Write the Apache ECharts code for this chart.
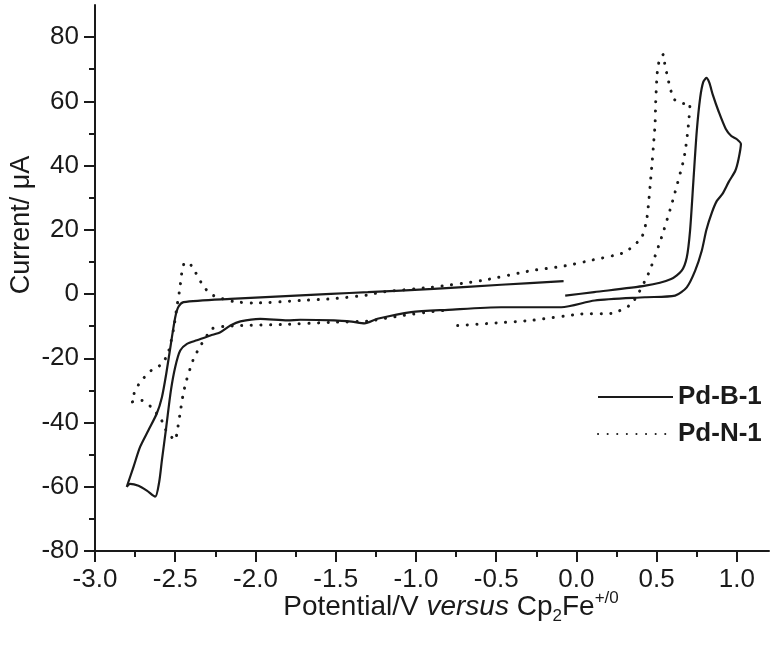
<!DOCTYPE html>
<html>
<head>
<meta charset="utf-8">
<script src="https://cdn.jsdelivr.net/npm/echarts@6/dist/echarts.min.js"></script>
<style>
html,body{margin:0;padding:0;background:#fff;}
#chart{width:772px;height:654px;}
</style>
</head>
<body>
<div id="chart"></div>
<script>
// Pd-B-1 (solid) — potential (V) and current (µA), in scan order
const potentialB = [-0.07,0.11,0.43,0.59,0.656,0.6875,0.708,0.729,0.75,0.771,0.79,0.81,0.828,0.85,0.885,0.93,0.965,1.0,1.025,1.01,0.99,0.95,0.91,0.875,0.845,0.81,0.781,0.74,0.6875,0.615,0.427,0.114,-0.094,-0.47,-0.80,-1.03,-1.24,-1.32,-1.40,-1.51,-1.72,-1.80,-1.97,-2.094,-2.156,-2.219,-2.281,-2.365,-2.427,-2.469,-2.50,-2.527,-2.556,-2.583,-2.60,-2.625,-2.677,-2.729,-2.781,-2.802,-2.76,-2.719,-2.667,-2.615,-2.583,-2.556,-2.527,-2.50,-2.479,-2.448,-2.156,-1.53,-1.30,-0.89,-0.47,-0.08];
const currentB   = [-0.5,0.6,2.6,4.7,7.3,11.4,19.7,35.3,50.8,61.1,66.0,67.3,65.8,62.0,57.0,51.5,49.2,48.2,46.7,42.0,38.4,35.0,31.2,29.0,25.5,20.0,13.5,7.3,2.1,-0.5,-1.0,-2.0,-4.1,-4.1,-4.9,-5.6,-7.7,-9.1,-8.6,-8.2,-8.0,-8.2,-7.7,-8.5,-9.8,-11.9,-12.9,-14.4,-15.5,-17.6,-22.7,-30.0,-41.4,-51.7,-58.5,-63.1,-61.2,-59.7,-59.1,-60.0,-53.8,-47.6,-42.4,-37.2,-32.1,-24.8,-15.5,-7.2,-3.9,-2.5,-1.5,0.06,0.6,1.6,2.9,4.0];

// Pd-N-1 (dotted)
const potentialN = [-0.74,-0.5,-0.28,0.03,0.22,0.344,0.448,0.53,0.594,0.667,0.681,0.694,0.702,0.708,0.667,0.61,0.583,0.567,0.552,0.542,0.521,0.506,0.50,0.494,0.49,0.479,0.469,0.44,0.406,0.30,0.10,-0.09,-0.28,-0.59,-0.906,-1.22,-1.30,-1.53,-1.72,-2.01,-2.14,-2.26,-2.32,-2.40,-2.44,-2.46,-2.47,-2.49,-2.51,-2.54,-2.58,-2.65,-2.71,-2.75,-2.77,-2.71,-2.65,-2.59,-2.56,-2.50,-2.49,-2.47,-2.45,-2.43,-2.39,-2.35,-2.27,-2.20,-2.09,-1.84,-1.53,-1.30,-1.09,-0.89,-0.80];
const currentN   = [-9.8,-9.0,-8.2,-6.2,-6.0,-3.0,6.3,17.6,28.0,41.5,45.6,50.8,54.9,59.3,59.3,60.6,64.3,67.9,71.0,74.6,73.6,70.0,66.3,59.6,52.9,45.6,39.4,23.9,17.6,13.0,10.6,8.6,7.3,4.2,2.1,0.6,-0.3,-1.5,-2.0,-2.8,-2.3,-0.5,2.1,8.9,9.9,6.3,2.1,-4.1,-10.8,-17.6,-21.7,-23.8,-26.9,-30.0,-33.6,-33.1,-35.2,-38.8,-42.2,-45.5,-43.4,-37.2,-31.0,-26.9,-20.7,-16.7,-10.8,-10.1,-9.8,-9.5,-8.8,-8.4,-6.7,-5.4,-5.0];

// axis ticks
const xMajorTicks = [-3.0,-2.5,-2.0,-1.5,-1.0,-0.5,0.0,0.5,1.0];
const xMinorTicks = [-2.75,-2.25,-1.75,-1.25,-0.75,-0.25,0.25,0.75];
const yMajorTicks = [-80,-60,-40,-20,0,20,40,60,80];
const yMinorTicks = [-70,-50,-30,-10,10,30,50,70];
const seriesNames = ['Pd-B-1','Pd-N-1'];

const zip = (xs, ys) => xs.map((x, i) => [x, ys[i]]);
const FONT = '"Liberation Sans", Arial, sans-serif';
const INK = '#1a1a1a';

const chart = echarts.init(document.getElementById('chart'), null, {renderer:'canvas'});
const grid = {left:95, right:3, top:5, bottom:103, containLabel:false};
const xBase = {type:'value', min:-3, max:1.2, splitLine:{show:false}};
const yBase = {type:'value', min:-80, max:90, splitLine:{show:false}};

chart.setOption({
  animation:false,
  backgroundColor:'#fff',
  grid: grid,
  xAxis: [
    Object.assign({}, xBase, {
      position:'bottom',
      axisLine:{show:true, onZero:false, lineStyle:{color:INK, width:2}},
      axisTick:{show:true, inside:false, length:11, lineStyle:{color:INK, width:2}, customValues:xMajorTicks},
      axisLabel:{show:true, margin:16, fontSize:26, color:INK, fontFamily:FONT,
        customValues:xMajorTicks, formatter: v => v.toFixed(1)}
    }),
    Object.assign({}, xBase, {
      position:'bottom',
      axisLine:{show:false, onZero:false},
      axisTick:{show:true, inside:false, length:6, lineStyle:{color:INK, width:2}, customValues:xMinorTicks},
      axisLabel:{show:false}
    })
  ],
  yAxis: [
    Object.assign({}, yBase, {
      position:'left',
      axisLine:{show:true, onZero:false, lineStyle:{color:INK, width:2}},
      axisTick:{show:true, inside:false, length:11, lineStyle:{color:INK, width:2}, customValues:yMajorTicks},
      axisLabel:{show:true, margin:16, fontSize:26, color:INK, fontFamily:FONT, customValues:yMajorTicks}
    }),
    Object.assign({}, yBase, {
      position:'left',
      axisLine:{show:false, onZero:false},
      axisTick:{show:true, inside:false, length:6, lineStyle:{color:INK, width:2}, customValues:yMinorTicks},
      axisLabel:{show:false}
    })
  ],
  legend: {
    show:true, orient:'vertical', left:597, top:384, itemGap:11, padding:0,
    itemWidth:75, itemHeight:26,
    itemStyle:{color:'rgba(0,0,0,0)', borderWidth:0, opacity:0},
    textStyle:{fontFamily:FONT, fontSize:26, fontWeight:'bold', color:INK},
    data: seriesNames
  },
  series: [
    {name:seriesNames[0], type:'line', xAxisIndex:0, yAxisIndex:0, data:zip(potentialB, currentB),
     showSymbol:false, symbol:'none', smooth:0.25, lineStyle:{color:INK, width:2.2}, itemStyle:{color:INK}},
    {name:seriesNames[1], type:'line', xAxisIndex:0, yAxisIndex:0, data:zip(potentialN, currentN),
     showSymbol:false, symbol:'none', smooth:0.2, lineStyle:{color:INK, width:3, type:[0.1, 9.5], cap:'round'}, itemStyle:{color:INK}}
  ],
  graphic: [
    {type:'text', x:22, y:225, rotation:Math.PI/2,
     style:{text:'Current/ μA', font:'27px ' + FONT, fill:INK, align:'center', verticalAlign:'middle'}},
    {type:'text', x:451, y:607,
     style:{
       text:'{a|Potential/V }{i|versus}{a| Cp}{sub|2}{a|Fe}{sup|+/0}',
       align:'center', verticalAlign:'middle', fill:INK,
       rich:{
         a:{fontSize:28, fontFamily:FONT, fill:INK},
         i:{fontSize:28, fontFamily:FONT, fontStyle:'italic', fill:INK},
         sub:{fontSize:17, fontFamily:FONT, fill:INK, padding:[18,0,0,0]},
         sup:{fontSize:17, fontFamily:FONT, fill:INK, padding:[0,0,18,0]}
       }
     }}
  ]
});
</script>
</body>
</html>
